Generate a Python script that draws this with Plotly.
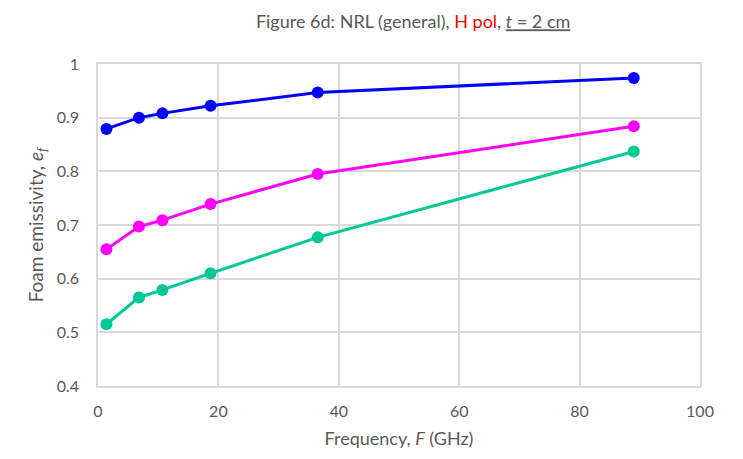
import plotly.graph_objects as go

freq = [1.4, 6.8, 10.7, 18.7, 36.5, 89.0]
blue_vals = [0.879, 0.900, 0.908, 0.922, 0.947, 0.974]
magenta_vals = [0.655, 0.697, 0.709, 0.739, 0.795, 0.884]
teal_vals = [0.515, 0.565, 0.579, 0.610, 0.677, 0.837]

series = [
    ("Blue", blue_vals, "#0000ff"),
    ("Magenta", magenta_vals, "#ff00ff"),
    ("Teal", teal_vals, "#00c896"),
]

fig = go.Figure()
for name, vals, col in series:
    fig.add_trace(go.Scatter(
        x=freq, y=vals, mode="lines+markers", name=name,
        line=dict(color=col, width=3),
        marker=dict(color=col, size=12),
        showlegend=False,
    ))

gray = "#595959"
grid = "#d9d9d9"
font_family = "Lato, Open Sans, sans-serif"

fig.update_layout(
    width=743, height=459,
    margin=dict(l=98, r=43, t=64, b=73),
    paper_bgcolor="white", plot_bgcolor="white",
    font=dict(family=font_family, color=gray, size=16),
    title=dict(
        text="Figure 6d: NRL (general), <span style='color:#ff0000'>H pol</span>, <u><i>t</i> = 2 cm</u>",
        x=0.556, xanchor="center", y=0.952, yanchor="middle",
        font=dict(size=18, color=gray, family=font_family),
    ),
)
fig.update_xaxes(
    range=[0, 100], dtick=20, tick0=0,
    showgrid=True, gridcolor=grid, gridwidth=1.5,
    showline=True, linecolor=grid, linewidth=1.5, mirror=True,
    zeroline=False, ticks="", ticklabelstandoff=10,
    tickfont=dict(size=16, color=gray),
    title=dict(text="Frequency, <i>F</i> (GHz)", font=dict(size=18, color=gray), standoff=13),
)
fig.update_yaxes(
    range=[0.4, 1.0], dtick=0.1, tick0=0.4,
    showgrid=True, gridcolor=grid, gridwidth=1.5,
    showline=True, linecolor=grid, linewidth=1.5, mirror=True,
    zeroline=False, ticks="", ticklabelstandoff=14,
    tickfont=dict(size=16, color=gray),
    title=dict(text="Foam emissivity, <i>e<sub>f</sub></i>", font=dict(size=19, color=gray), standoff=8),
)

fig.write_html("out.html")
